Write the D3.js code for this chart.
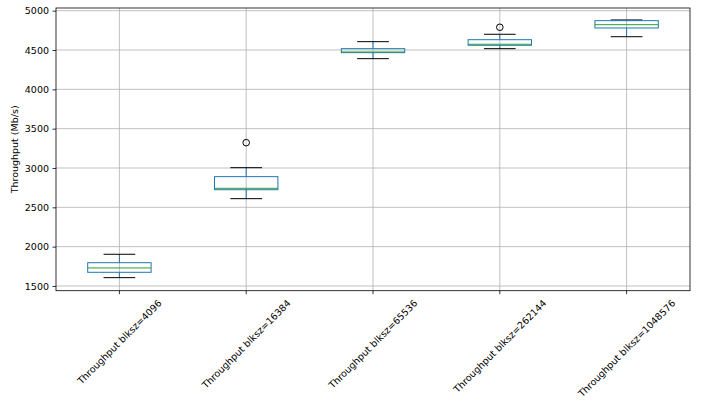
<!DOCTYPE html>
<html><head><meta charset="utf-8">
<script src="https://cdn.jsdelivr.net/npm/d3@7"></script>
<style>
body{margin:0;background:#fff;}
svg{display:block;font-family:"DejaVu Sans",sans-serif;}
</style></head>
<body>
<svg id="chart" width="704" height="413"></svg>
<script>
const categories = ["Throughput blksz=4096","Throughput blksz=16384","Throughput blksz=65536","Throughput blksz=262144","Throughput blksz=1048576"];
const whiskerLow  = [1606, 2610, 4390, 4517, 4669];
const q1          = [1674, 2724, 4466, 4560, 4780];
const median      = [1729, 2742, 4475, 4573, 4822];
const q3          = [1796, 2890, 4517, 4631, 4873];
const whiskerHigh = [1903, 3004, 4606, 4700, 4882];
const outliers    = [[], [3322], [], [4789], []];
const yTicks = [1500, 2000, 2500, 3000, 3500, 4000, 4500, 5000];

const svg = d3.select("#chart");
const L = 56, R = 690, T = 8, B = 290.7;
const fs = 9.5;

const x = d3.scaleBand().domain(categories).range([L, R]).paddingInner(0).paddingOuter(0);
const cx = c => x(c) + x.bandwidth() / 2;
const y = d3.scaleLinear().domain([1440, 5034]).range([B, T]);

// grid
const g = svg.append("g");
g.selectAll(".gy").data(yTicks).join("line")
  .attr("x1", L).attr("x2", R).attr("y1", d => y(d)).attr("y2", d => y(d))
  .attr("stroke", "#b0b0b0").attr("stroke-width", 0.8);
g.selectAll(".gx").data(categories).join("line")
  .attr("x1", d => cx(d)).attr("x2", d => cx(d)).attr("y1", T).attr("y2", B)
  .attr("stroke", "#b0b0b0").attr("stroke-width", 0.8);

// boxes
const data = categories.map((c, i) => ({c, lo: whiskerLow[i], q1: q1[i], med: median[i], q3: q3[i], hi: whiskerHigh[i], out: outliers[i]}));
const bw = x.bandwidth() * 0.5, cw = x.bandwidth() * 0.25;
const bg = svg.append("g").selectAll("g").data(data).join("g");
bg.append("line").attr("x1", d => cx(d.c)).attr("x2", d => cx(d.c)).attr("y1", d => y(d.q1)).attr("y2", d => y(d.lo)).attr("stroke", "#1f77b4").attr("stroke-width", 1);
bg.append("line").attr("x1", d => cx(d.c)).attr("x2", d => cx(d.c)).attr("y1", d => y(d.q3)).attr("y2", d => y(d.hi)).attr("stroke", "#1f77b4").attr("stroke-width", 1);
bg.append("line").attr("x1", d => cx(d.c) - cw/2).attr("x2", d => cx(d.c) + cw/2).attr("y1", d => y(d.lo)).attr("y2", d => y(d.lo)).attr("stroke", "#000").attr("stroke-width", 1);
bg.append("line").attr("x1", d => cx(d.c) - cw/2).attr("x2", d => cx(d.c) + cw/2).attr("y1", d => y(d.hi)).attr("y2", d => y(d.hi)).attr("stroke", "#000").attr("stroke-width", 1);
bg.append("rect").attr("x", d => cx(d.c) - bw/2).attr("width", bw)
  .attr("y", d => y(d.q3)).attr("height", d => y(d.q1) - y(d.q3))
  .attr("fill", "none").attr("stroke", "#1f77b4").attr("stroke-width", 1);
bg.append("line").attr("x1", d => cx(d.c) - bw/2).attr("x2", d => cx(d.c) + bw/2).attr("y1", d => y(d.med)).attr("y2", d => y(d.med)).attr("stroke", "#2ca02c").attr("stroke-width", 1);
bg.selectAll("circle").data(d => d.out.map(v => ({c: d.c, v}))).join("circle")
  .attr("cx", d => cx(d.c)).attr("cy", d => y(d.v)).attr("r", 3.3)
  .attr("fill", "none").attr("stroke", "#000").attr("stroke-width", 1);

// axes
const yAxis = d3.axisLeft(y).tickValues(yTicks).tickSize(3.5).tickPadding(3.5).tickFormat(d3.format("d"));
const ya = svg.append("g").attr("transform", `translate(${L},0)`).call(yAxis);
ya.select(".domain").remove();
ya.selectAll("text").attr("font-size", fs).attr("fill", "#000").attr("font-family", "DejaVu Sans");
ya.selectAll("line").attr("stroke", "#000").attr("stroke-width", 0.8);

const xAxis = d3.axisBottom(x).tickSize(3.5).tickFormat("");
const xa = svg.append("g").attr("transform", `translate(0,${B})`).call(xAxis);
xa.select(".domain").remove();
xa.selectAll("line").attr("stroke", "#000").attr("stroke-width", 0.8);

// rotated x labels (bbox centered on tick, top at fixed y)
const topY = 298;
categories.forEach(c => {
  const t = svg.append("text").text(c).attr("font-size", fs).attr("fill", "#000")
    .attr("text-anchor", "middle").attr("dominant-baseline", "central");
  const len = t.node().getComputedTextLength();
  const h = fs * 1.0;
  const bbh = (len + h) * Math.SQRT1_2;
  const cy = topY + bbh / 2;
  t.attr("x", 0).attr("y", 0).attr("transform", `translate(${cx(c)},${cy}) rotate(-45)`);
});

// frame
svg.append("rect").attr("x", L).attr("y", T).attr("width", R - L).attr("height", B - T)
  .attr("fill", "none").attr("stroke", "#000").attr("stroke-width", 0.8);

// y label
svg.append("text").text("Throughput (Mb/s)").attr("font-size", fs).attr("fill", "#000")
  .attr("text-anchor", "middle")
  .attr("transform", `translate(18,${(T + B) / 2}) rotate(-90)`);
</script>
</body></html>
